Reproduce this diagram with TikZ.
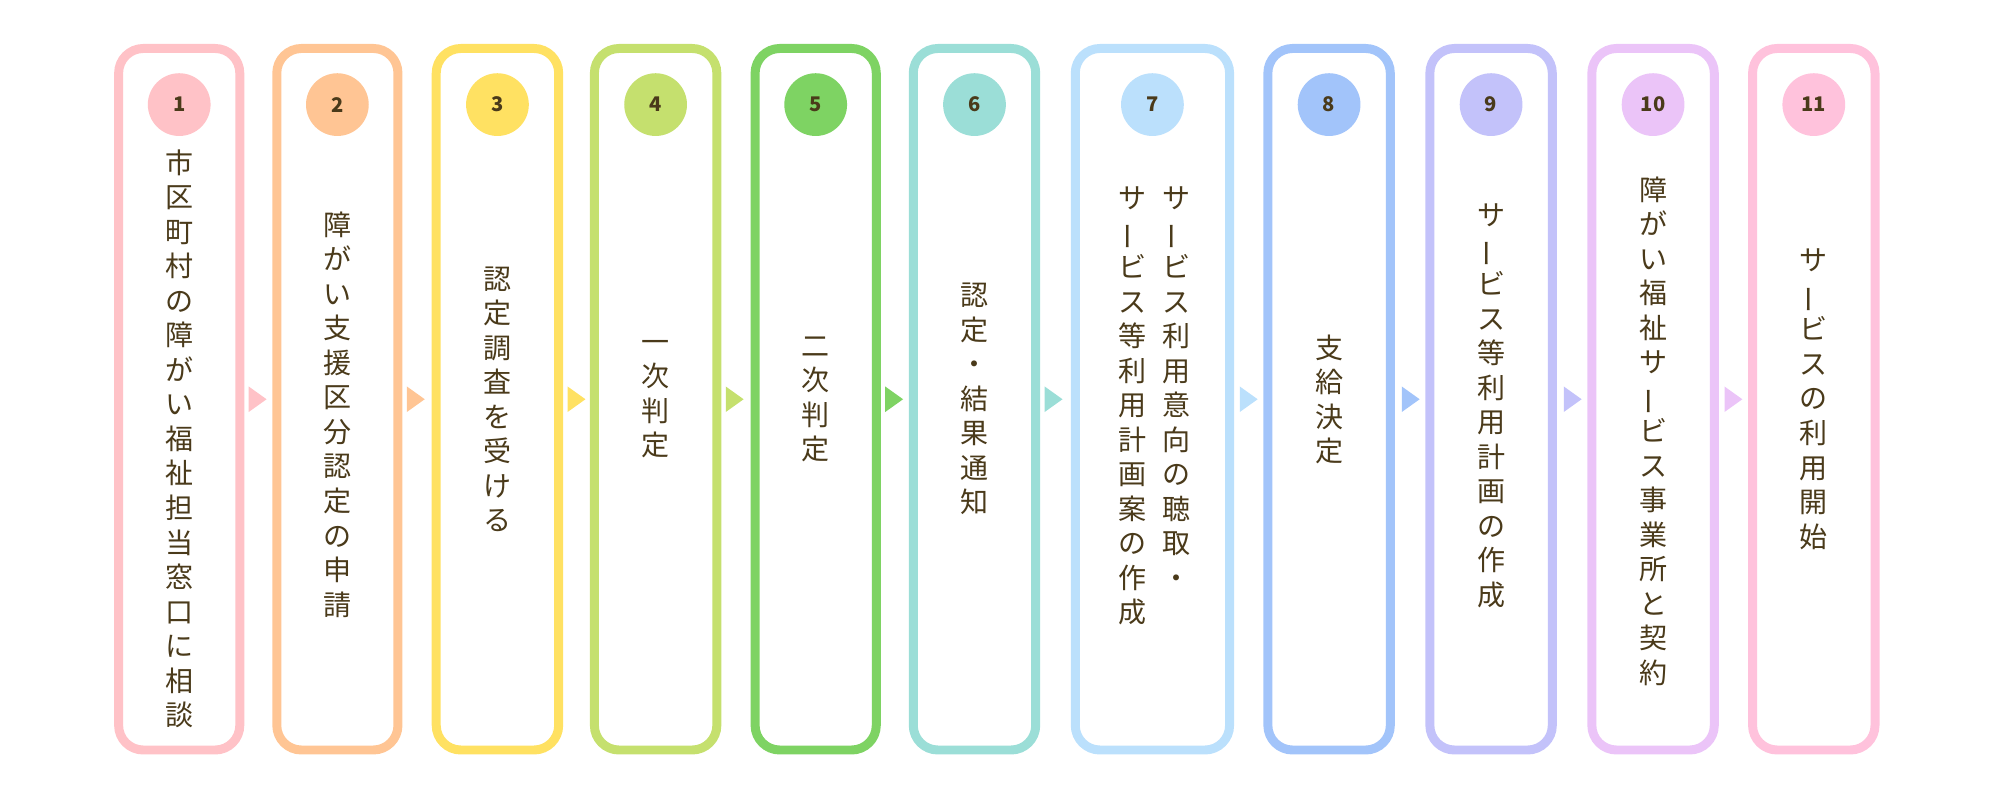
\documentclass[tikz,border=0pt]{standalone}
\usepackage{fontspec}
\setmainfont{Noto Sans CJK JP}
\definecolor{ink}{RGB}{74, 58, 26}
\definecolor{cone}{RGB}{255, 194, 199}
\definecolor{ctwo}{RGB}{255, 197, 148}
\definecolor{cthree}{RGB}{255, 225, 98}
\definecolor{cfour}{RGB}{197, 224, 110}
\definecolor{cfive}{RGB}{126, 211, 99}
\definecolor{csix}{RGB}{155, 222, 215}
\definecolor{cseven}{RGB}{187, 224, 252}
\definecolor{ceight}{RGB}{162, 196, 250}
\definecolor{cnine}{RGB}{195, 194, 250}
\definecolor{cten}{RGB}{235, 196, 248}
\definecolor{celeven}{RGB}{255, 194, 220}
% vertical text: one character per line, long vowel turned upright
\ExplSyntaxOn
\NewDocumentCommand\vtext{m}{\exp_args:No \tl_map_inline:nn {#1}{\str_if_eq:nnTF{##1}{ー}{\rotatebox[origin=c]{90}{ー}}{##1}\par}}
\ExplSyntaxOff
\tikzset{
    stepbox/.style={draw, line width=4pt, rounded corners=11pt, fill=white},
    badge/.style={circle, minimum size=28pt, inner sep=0, text=ink, font=\fontsize{9}{9}\selectfont\bfseries},
    vlabel/.style={text=ink, text width=16pt, align=center, inner sep=0,
        font=\fontsize{12.5}{15.4}\selectfont},
}
\begin{document}
\begin{tikzpicture}[x=0.02cm, y=-0.02cm]
    \useasboundingbox (0,0) rectangle (1568,626);

    % boxes, badges and texts (x left / x right / text centre y / colour / text)
    \foreach \xl / \xr / \ty / \col / \txt [count=\n] in {
            93/188/344/cone/{市区町村の障がい福祉担当窓口に相談},
            217/312/325/ctwo/{障がい支援区分認定の申請},
            342/438/313/cthree/{認定調査を受ける},
            466/562/313/cfour/{一次判定},
            592/687/313/cfive/{二次判定},
            716/812/313/csix/{認定・結果通知},
            843/964/313/cseven/{},
            994/1090/313/ceight/{支給決定},
            1121/1217/318/cnine/{サービス等利用計画の作成},
            1248/1344/338/cten/{障がい福祉サービス事業所と契約},
            1374/1470/313/celeven/{サービスの利用開始}} {
        \draw[stepbox, draw=\col] (\xl,38) rectangle (\xr,588);
        \coordinate (top\n) at ({(\xl+\xr)/2}, 82);
        \node[badge, fill=\col] (num\n) at (top\n) {\n};
        \node[vlabel] (txt\n) at ({(\xl+\xr)/2}, \ty) {\vtext{\txt}};
    }

    % box 7 holds two columns, read right to left
    \node[vlabel, anchor=north] (txtsevena) at (922,146) {\vtext{サービス利用意向の聴取・}};
    \node[vlabel, anchor=north] (txtsevenb) at (888,146) {\vtext{サービス等利用計画案の作成}};

    % small triangles between the boxes, in the colour of the box before
    \foreach \x / \col in {
            202/cone, 326/ctwo, 452/cthree, 576/cfour, 701/cfive,
            826/csix, 979/cseven, 1106/ceight, 1233/cnine, 1359/cten} {
        \fill[\col] (\x-7,303) -- (\x+7,313) -- (\x-7,323) -- cycle;
    }
\end{tikzpicture}
\end{document}
